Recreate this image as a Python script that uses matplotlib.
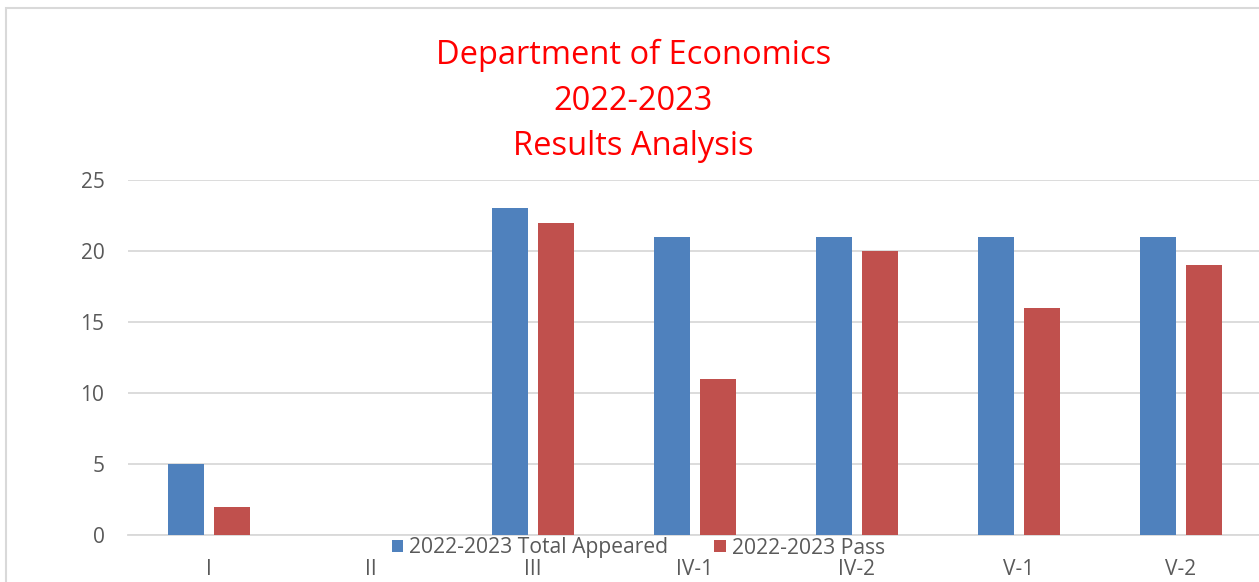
import numpy as np
import matplotlib.pyplot as plt
from matplotlib.patches import Rectangle

categories = ["I", "II", "III", "IV-1", "IV-2", "V-1", "V-2"]
total_appeared = [5, 0, 23, 21, 21, 21, 21]
passed = [2, 0, 22, 11, 20, 16, 19]

plt.rcParams['font.family'] = ['Open Sans', 'DejaVu Sans']

fig = plt.figure(figsize=(12.59, 5.82), dpi=100)
# plot area runs slightly past the right edge, as in the original
ax = fig.add_axes([128 / 1259, 1 - 535 / 582, 1134 / 1259, 355 / 582])

x = np.arange(len(categories))
w = 0.222
off = 0.142
ax.bar(x - off, total_appeared, w, color="#4F81BD", label="2022-2023 Total Appeared", zorder=3)
ax.bar(x + off, passed, w, color="#C0504D", label="2022-2023 Pass", zorder=3)

ax.set_xlim(-0.5, len(categories) - 0.5)
ax.set_ylim(0, 25)
ax.set_yticks(range(0, 26, 5))
ax.set_xticks(x)
ax.set_xticklabels(categories)
ax.yaxis.grid(True, color="#d9d9d9", linewidth=1.3, zorder=0)
ax.set_axisbelow(True)
for s in ["top", "right", "left"]:
    ax.spines[s].set_visible(False)
ax.spines["bottom"].set_color("#d9d9d9")
ax.spines["bottom"].set_linewidth(1.3)
ax.tick_params(axis="both", length=0, colors="#595959", labelsize=15)
ax.tick_params(axis="y", pad=17)
ax.tick_params(axis="x", pad=17)

fig.text(0.503, 1 - 101 / 582, "Department of Economics\n2022-2023\nResults Analysis",
         ha="center", va="center", color="#FF0000", fontsize=23.5, linespacing=1.5)

fig.legend(loc="center", bbox_to_anchor=(0.507, 1 - 548 / 582), ncol=2, frameon=False,
           fontsize=15.2, handlelength=0.55, handleheight=0.55, handletextpad=0.3,
           columnspacing=2.15, labelcolor="#595959")

fig.add_artist(Rectangle((6 / 1259, -0.1), 1.2, 1 - 8 / 582 + 0.1, transform=fig.transFigure,
                         fill=False, edgecolor="#d9d9d9", linewidth=1.5))

fig.savefig("out.png", dpi=100)
